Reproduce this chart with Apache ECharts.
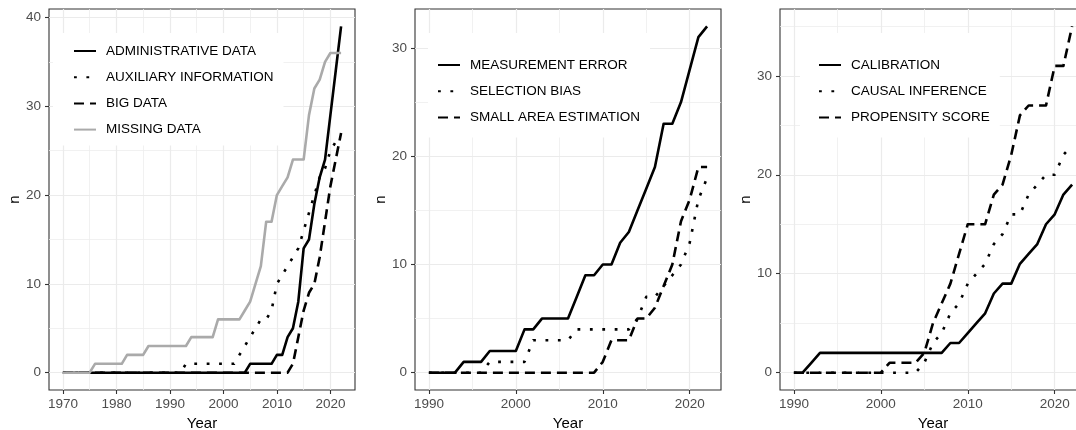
<!DOCTYPE html>
<html>
<head>
<meta charset="utf-8">
<script src="https://cdn.jsdelivr.net/npm/echarts@6/dist/echarts.min.js"></script>
<style>
html,body{margin:0;padding:0;background:#fff;}
#chart{width:1076px;height:430px;}
</style>
</head>
<body>
<div id="chart"></div>
<script>
// ---------- DATA ----------
const years1 = [1970,1971,1972,1973,1974,1975,1976,1977,1978,1979,1980,1981,1982,1983,1984,1985,1986,1987,1988,1989,
  1990,1991,1992,1993,1994,1995,1996,1997,1998,1999,2000,2001,2002,2003,2004,2005,2006,2007,2008,2009,
  2010,2011,2012,2013,2014,2015,2016,2017,2018,2019,2020,2021,2022];
const adminData = [0,0,0,0,0,0,0,0,0,0,0,0,0,0,0,0,0,0,0,0,
  0,0,0,0,0,0,0,0,0,0,0,0,0,0,0,1,1,1,1,1,
  2,2,4,5,8,14,15,19,22,24,29,34,39];
const auxInfo = [0,0,0,0,0,0,0,0,0,0,0,0,0,0,0,0,0,0,0,0,
  0,0,0,1,1,1,1,1,1,1,1,1,1,2,3,4,5,6,6,7,
  10,11,12,13,14,16,18,20,22,23,25,26,26];
const bigData = [0,0,0,0,0,0,0,0,0,0,0,0,0,0,0,0,0,0,0,0,
  0,0,0,0,0,0,0,0,0,0,0,0,0,0,0,0,0,0,0,0,
  0,0,0,1,4,7,9,10,13,17,21,24,27];
const missingData = [0,0,0,0,0,0,1,1,1,1,1,1,2,2,2,2,3,3,3,3,
  3,3,3,3,4,4,4,4,4,6,6,6,6,6,7,8,10,12,17,17,
  20,21,22,24,24,24,29,32,33,35,36,36,36];

const years2 = [1990,1991,1992,1993,1994,1995,1996,1997,1998,1999,2000,2001,2002,2003,2004,2005,2006,2007,2008,2009,
  2010,2011,2012,2013,2014,2015,2016,2017,2018,2019,2020,2021,2022];
const measurementError = [0,0,0,0,1,1,1,2,2,2,2,4,4,5,5,5,5,7,9,9,
  10,10,12,13,15,17,19,23,23,25,28,31,32];
const selectionBias = [0,0,0,0,0,0,0,1,1,1,1,1,3,3,3,3,3,4,4,4,
  4,4,4,4,5,7,7,8,9,10,12,16,18];
const smallAreaEstimation = [0,0,0,0,0,0,0,0,0,0,0,0,0,0,0,0,0,0,0,0,
  1,3,3,3,5,5,6,8,10,14,16,19,19];

const years3 = years2;
const calibration = [0,0,1,2,2,2,2,2,2,2,2,2,2,2,2,2,2,2,3,3,
  4,5,6,8,9,9,11,12,13,15,16,18,19];
const causalInference = [0,0,0,0,0,0,0,0,0,0,0,0,0,0,0,1,3,4,6,7,
  9,10,11,13,14,16,16,18,19,20,20,22,23];
const propensityScore = [0,0,0,0,0,0,0,0,0,0,0,1,1,1,1,2,5,7,9,12,
  15,15,15,18,19,22,26,27,27,27,31,31,35];

const xTicks1 = [1970,1980,1990,2000,2010,2020];
const xTicks2 = [1990,2000,2010,2020];
const xTicks3 = [1990,2000,2010,2020];
const yTicks1 = [0,10,20,30,40];
const yTicks2 = [0,10,20,30];
const yTicks3 = [0,10,20,30];

const names1 = ['ADMINISTRATIVE DATA','AUXILIARY INFORMATION','BIG DATA','MISSING DATA'];
const names2 = ['MEASUREMENT ERROR','SELECTION BIAS','SMALL AREA ESTIMATION'];
const names3 = ['CALIBRATION','CAUSAL INFERENCE','PROPENSITY SCORE'];

// ---------- HELPERS ----------
const FONT = 'Liberation Sans, Arial, Helvetica, sans-serif';
function expand(arrs) {
  const all = [].concat(...arrs);
  const lo = Math.min(...all), hi = Math.max(...all);
  const pad = (hi - lo) * 0.05;
  return [lo - pad, hi + pad];
}
function minorOf(ticks, range) {
  const step = ticks[1] - ticks[0];
  const out = [];
  for (let i = -1; i < ticks.length; i++) {
    const v = ticks[0] + step * i + step / 2;
    if (v > range[0] && v < range[1]) out.push(v);
  }
  return out;
}
const styles = {
  solid:  {color:'#000000', type:'solid'},
  dotted: {color:'#000000', type:[2.8, 9.6]},
  dashed: {color:'#000000', type:[10, 6]},
  grey:   {color:'#AAAAAA', type:'solid'}
};

const panels = [
  {years: years1, series: [adminData, auxInfo, bigData, missingData], names: names1,
   styles: ['solid','dotted','dashed','grey'], xTicks: xTicks1, yTicks: yTicks1,
   grid: {left: 49, top: 9, width: 306, height: 381},
   legend: {left: 53, top: 33, padding: [11, 10, 9, 20]}},
  {years: years2, series: [measurementError, selectionBias, smallAreaEstimation], names: names2,
   styles: ['solid','dotted','dashed'], xTicks: xTicks2, yTicks: yTicks2,
   grid: {left: 415, top: 9, width: 306, height: 381},
   legend: {left: 428, top: 33, padding: [25, 10, 13, 9]}},
  {years: years3, series: [calibration, causalInference, propensityScore], names: names3,
   styles: ['solid','dotted','dashed'], xTicks: xTicks3, yTicks: yTicks3,
   grid: {left: 780, top: 9, width: 306, height: 381},
   legend: {left: 800, top: 33, padding: [25, 10, 13, 18]}}
];

const option = {
  animation: false,
  backgroundColor: '#ffffff',
  textStyle: {fontFamily: FONT},
  grid: [], xAxis: [], yAxis: [], series: [], legend: []
};

panels.forEach((p, i) => {
  const xr = expand([p.years]);
  const yr = expand(p.series);
  option.grid.push(Object.assign({show: true, borderColor: '#333333', borderWidth: 1.1,
    backgroundColor: '#ffffff', containLabel: false, outerBoundsMode: 'none'}, p.grid));
  const xMinor = minorOf(p.xTicks, xr);
  const yMinor = minorOf(p.yTicks, yr);
  // major x
  option.xAxis.push({
    type: 'value', gridIndex: i, min: xr[0], max: xr[1], position: 'bottom',
    name: 'Year', nameLocation: 'middle', nameGap: 22,
    nameTextStyle: {color: '#000', fontSize: 15, fontFamily: FONT},
    axisLine: {show: false, onZero: false},
    axisTick: {show: true, length: 4, lineStyle: {color: '#333333', width: 1.1}, customValues: p.xTicks},
    axisLabel: {customValues: p.xTicks, color: '#4D4D4D', fontSize: 13.5, margin: 7, fontFamily: FONT,
      formatter: v => String(v)},
    splitLine: {show: true, lineStyle: {color: '#EBEBEB', width: 1.2}},
    z: 1
  });
  // minor x
  option.xAxis.push({
    type: 'value', gridIndex: i, min: xr[0], max: xr[1], position: 'bottom',
    axisLine: {show: false, onZero: false},
    axisTick: {show: false, customValues: xMinor},
    axisLabel: {show: false, customValues: xMinor},
    splitLine: {show: true, lineStyle: {color: '#EDEDED', width: 0.8}},
    z: 0
  });
  option.yAxis.push({
    type: 'value', gridIndex: i, min: yr[0], max: yr[1], position: 'left',
    name: 'n', nameLocation: 'middle', nameGap: 26,
    nameTextStyle: {color: '#000', fontSize: 15, fontFamily: FONT},
    axisLine: {show: false, onZero: false},
    axisTick: {show: true, length: 4, lineStyle: {color: '#333333', width: 1.1}, customValues: p.yTicks},
    axisLabel: {customValues: p.yTicks, color: '#4D4D4D', fontSize: 13.5, margin: 8, fontFamily: FONT,
      formatter: v => String(v)},
    splitLine: {show: true, lineStyle: {color: '#EBEBEB', width: 1.2}},
    z: 1
  });
  option.yAxis.push({
    type: 'value', gridIndex: i, min: yr[0], max: yr[1], position: 'left',
    axisLine: {show: false, onZero: false},
    axisTick: {show: false, customValues: yMinor},
    axisLabel: {show: false, customValues: yMinor},
    splitLine: {show: true, lineStyle: {color: '#EDEDED', width: 0.8}},
    z: 0
  });
  p.series.forEach((vals, k) => {
    const st = styles[p.styles[k]];
    option.series.push({
      type: 'line', name: p.names[k], xAxisIndex: 2 * i, yAxisIndex: 2 * i,
      data: p.years.map((yy, j) => [yy, vals[j]]),
      showSymbol: false, symbol: 'none', smooth: false,
      lineStyle: {color: st.color, width: 2.6, type: st.type, cap: 'butt', join: 'round'},
      itemStyle: {color: st.color},
      z: 3
    });
  });
  option.legend.push({
    data: p.names, orient: 'vertical', left: p.legend.left, top: p.legend.top,
    padding: p.legend.padding, backgroundColor: '#ffffff',
    itemWidth: 22, itemHeight: 14, itemGap: 12.2, selectedMode: false,
    itemStyle: {color: 'rgba(0,0,0,0)', borderColor: 'rgba(0,0,0,0)', borderWidth: 0, opacity: 0},
    textStyle: {color: '#000', fontSize: 13.5, fontFamily: FONT, padding: [0, 0, 0, 5]}
  });
});

const chart = echarts.init(document.getElementById('chart'), null, {renderer: 'canvas'});
chart.setOption(option);
</script>
</body>
</html>
